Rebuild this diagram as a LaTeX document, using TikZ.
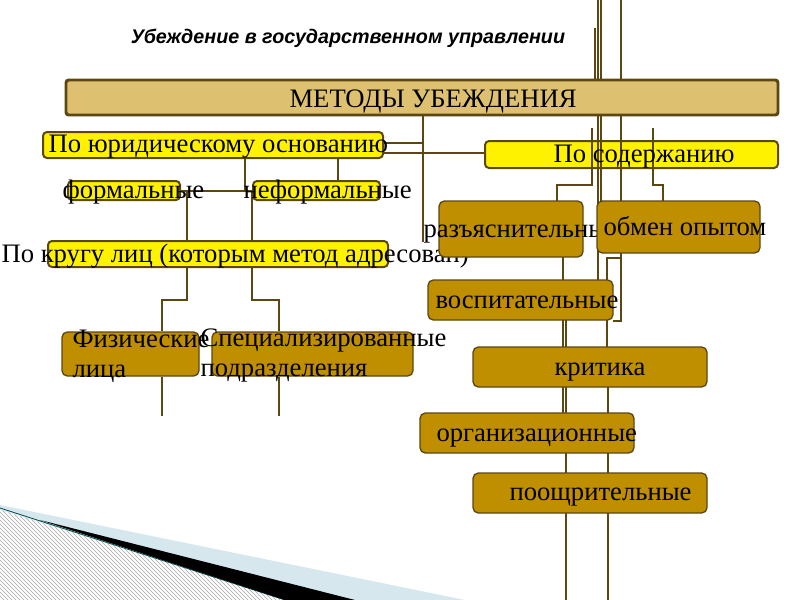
\documentclass[tikz,border=0pt]{standalone}
\usepackage{fontspec}
\setmainfont{Liberation Serif}
\newfontfamily\headfont{Liberation Sans}
\usetikzlibrary{patterns}

\definecolor{methfill}{RGB}{221,193,112}
\definecolor{boxbrown}{RGB}{191,143,0}
\definecolor{linebrown}{RGB}{92,70,18}
\definecolor{swooshblue}{RGB}{214,231,238}

\tikzset{every picture/.style={line width=0.75pt}}
\tikzset{
  link/.style={draw=linebrown, line width=1.5pt},
  ybox/.style={draw=linebrown, fill=yellow, line width=1.5pt, rounded corners=3pt, inner sep=0pt},
  bbox/.style={draw=linebrown, fill=boxbrown, line width=1pt, rounded corners=4pt, inner sep=0pt},
  txt/.style={inner sep=0pt, anchor=base west, font=\fontsize{20pt}{20pt}\selectfont},
  twolines/.style={inner sep=0pt, anchor=west, align=left, font=\fontsize{20pt}{22.5pt}\selectfont},
}

\begin{document}
\begin{tikzpicture}[x=0.75pt,y=0.75pt,yscale=-1,xscale=1]
\useasboundingbox (0,0) rectangle (800,600);

%Shape: swoosh bottom left
\fill[swooshblue] (0,505) -- (465,600) -- (0,600) -- cycle ;
\fill[white] (0,510) -- (290,600) -- (0,600) -- cycle ;
\fill[pattern=north west lines, pattern color=gray!70] (0,510) -- (290,600) -- (0,600) -- cycle ;
\draw[teal!60!black, line width=0.6pt] (0,508) -- (285,600) ;
\fill[black] (40,520) -- (355,600) -- (285,600) -- cycle ;

% Title
\node[inner sep=0pt, font=\headfont\bfseries\itshape\fontsize{14.8pt}{16pt}\selectfont] (title) at (348,38) {Убеждение в государственном управлении};

% Boxes, upper part
\node[draw=linebrown, fill=methfill, line width=2.2pt, rounded corners=2pt, minimum width=534pt, minimum height=26.25pt] (metody) at (422,97.5) {};
\node[ybox, minimum width=219.75pt, minimum height=20.25pt] (soder) at (631.5,154.5) {};
\node[ybox, minimum width=84pt, minimum height=14.25pt] (formal) at (124,190.5) {};
\node[ybox, minimum width=95.25pt, minimum height=14.25pt] (neformal) at (316.5,190.5) {};
\node[ybox, minimum width=255pt, minimum height=19.5pt] (krug) at (218,254) {};
\node[bbox, minimum width=102.75pt, minimum height=33pt] (fiz) at (130.5,354) {};
\node[bbox, minimum width=150.75pt, minimum height=33pt] (spec) at (312.5,354) {};

%Straight Lines: trunk on the right, behind the boxes
\draw[link, line width=1pt] (595,28) -- (595,0 |- metody.north) ;
\draw[link] (598,0) -- (598,0 |- metody.north) ;
\draw[link] (601,0) -- (601,0 |- metody.north) ;
\draw[link] (621,0) -- (621,0 |- metody.north) ;
\draw[link] (598,0 |- metody.south) -- (598,280) ;
\draw[link] (601,0 |- metody.south) -- (601,201) ;
\draw[link] (621,0 |- metody.south) -- (621,321) -- (613,321) ;
\draw[link] (592,128) -- (592,185) -- (557,185) -- (557,201) ;
\draw[link] (653,128) -- (653,185) -- (663,185) -- (663,201) ;
\draw[link] (607,347) -- (607,258) -- (620,258) ;
\draw[link] (563,257) -- (563,413) ;
\draw[link] (566,320) -- (566,600) ;
\draw[link] (608,387) -- (608,600) ;

%Straight Lines: left part
\draw[link] (423,0 |- metody.south) -- (423,242) ;
\draw[link] (383,143) -- (423,143) ;
\draw[link] (383,153) -- (soder.west |- 0,153) ;
\draw[link] (245,158) -- (245,0 |- formal.east) ;
\draw[link] (338,158) -- (338,0 |- neformal.north) ;
\draw[link] (formal.east) -- (neformal.west) ;
\draw[link] (187,0 |- formal.east) -- (187,0 |- krug.north) ;
\draw[link] (252,0 |- neformal.east) -- (252,0 |- krug.north) ;
\draw[link] (187,0 |- krug.south) -- (187,300) -- (162,300) -- (162,0 |- fiz.north) ;
\draw[link] (252,0 |- krug.south) -- (252,300) -- (279,300) -- (279,0 |- spec.north) ;
\draw[link] (162,0 |- fiz.south) -- (162,416) ;
\draw[link] (279,0 |- spec.south) -- (279,416) ;

\node[ybox, minimum width=255pt, minimum height=19.5pt] (jur) at (213,145) {};

% Text Node
\node[txt] (metodyT) at (289,107) {МЕТОДЫ УБЕЖДЕНИЯ};
\node[txt] (jurT) at (48,152) {По юридическому основанию};
\node[txt] (soderT) at (553,162) {По содержанию};
\node[txt] (formalT) at (62,198) {формальные};
\node[txt] (neformalT) at (243,198) {неформальные};
\node[txt] (krugT) at (1,262) {По кругу лиц (которым метод адресован)};
\node[twolines] (fizT) at (72,356) {Физические\\лица};
\node[twolines] (specT) at (200,356) {Специализированные\\подразделения};

% Boxes and texts, right part
\node[bbox, minimum width=108pt, minimum height=42pt] (razj) at (511,229) {};
\node[txt] (razjT) at (423,237) {разъяснительные};
\node[bbox, minimum width=122.25pt, minimum height=39pt] (obmen) at (678.5,227) {};
\node[txt] (obmenT) at (603,235) {обмен опытом};
\node[bbox, minimum width=138.75pt, minimum height=30pt] (vospit) at (520.5,300) {};
\node[txt] (vospitT) at (435,308) {воспитательные};
\node[bbox, minimum width=175.5pt, minimum height=30pt] (kritika) at (590,367) {};
\node[txt] (kritikaT) at (554,375) {критика};
\node[bbox, minimum width=160.5pt, minimum height=30pt] (org) at (527,433) {};
\node[txt] (orgT) at (436,441) {организационные};
\node[bbox, minimum width=175.5pt, minimum height=30pt] (poosh) at (590,493) {};
\node[txt] (pooshT) at (509,500) {поощрительные};

\end{tikzpicture}
\end{document}
